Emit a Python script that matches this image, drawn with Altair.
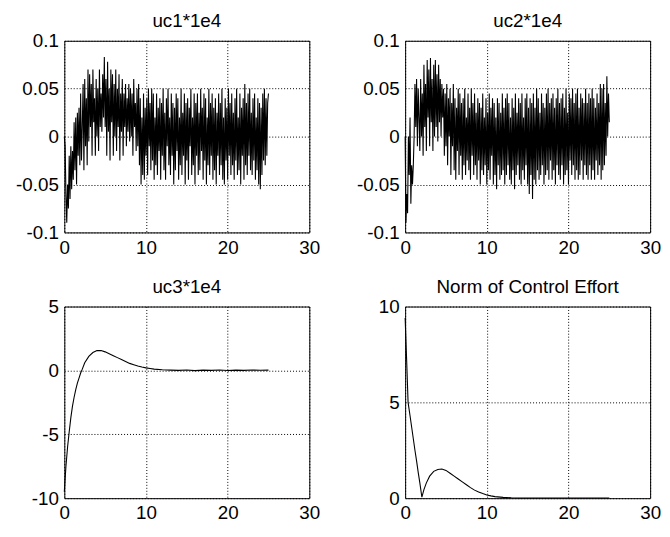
import altair as alt
import pandas as pd

# ---- data ----
t_noise = [round(i * 0.1, 1) for i in range(251)]

uc1 = [
    0.0, -0.01, -0.06, -0.09, -0.05, -0.075, -0.02, -0.065, -0.01, -0.055,
    -0.015, -0.045, 0.015, -0.035, 0.02, -0.05, 0.025, -0.02, 0.03, -0.03,
    0.045, -0.025, 0.01, 0.055, -0.035, 0.06, -0.01, 0.04, -0.03, 0.07,
    -0.005, 0.065, 0.01, 0.055, -0.02, 0.07, 0.015, 0.04, -0.02, 0.06,
    0.0, 0.05, -0.015, 0.07, 0.01, 0.045, 0.005, 0.065, 0.02, 0.083,
    0.01, 0.06, -0.02, 0.078, 0.005, 0.05, -0.025, 0.07, 0.015, 0.065,
    -0.02, 0.055, 0.0, 0.07, -0.015, 0.05, 0.01, 0.065, -0.025, 0.045,
    0.005, 0.06, -0.02, 0.045, 0.01, 0.055, -0.01, 0.04, 0.005, 0.055,
    -0.005, 0.05, 0.0, 0.045, -0.02, 0.06, 0.01, 0.035, -0.015, 0.05,
    -0.01, 0.055, -0.03, 0.04, -0.05, 0.02, -0.04, 0.045, -0.045, 0.03,
    -0.02, 0.04, -0.04, 0.05, -0.01, 0.035, -0.035, 0.05, -0.025, 0.045,
    -0.045, 0.02, -0.03, 0.045, -0.04, 0.03, -0.015, 0.04, -0.045, 0.035,
    -0.02, 0.05, -0.035, 0.025, -0.045, 0.04, -0.01, 0.05, -0.03, 0.02,
    -0.04, 0.045, -0.02, 0.035, -0.05, 0.03, -0.035, 0.045, -0.015, 0.04,
    -0.045, 0.02, -0.03, 0.05, -0.04, 0.025, -0.02, 0.045, -0.05, 0.035,
    -0.025, 0.04, -0.045, 0.03, -0.01, 0.05, -0.04, 0.02, -0.03, 0.045,
    -0.05, 0.035, -0.02, 0.045, -0.04, 0.025, -0.035, 0.05, -0.015, 0.03,
    -0.045, 0.045, -0.025, 0.04, -0.05, 0.02, -0.03, 0.05, -0.04, 0.035,
    -0.02, 0.045, -0.045, 0.03, -0.035, 0.04, -0.05, 0.025, -0.02, 0.045,
    -0.04, 0.035, -0.03, 0.05, -0.045, 0.02, -0.05, 0.04, -0.025, 0.03,
    -0.045, 0.05, -0.02, 0.035, -0.04, 0.045, -0.03, 0.025, -0.045, 0.04,
    -0.025, 0.05, -0.04, 0.02, -0.035, 0.045, -0.05, 0.03, -0.02, 0.04,
    -0.045, 0.055, -0.03, 0.035, -0.04, 0.045, -0.02, 0.05, -0.035, 0.025,
    -0.04, 0.04, -0.025, 0.045, -0.045, 0.02, -0.035, 0.04, -0.05, 0.035,
    -0.055, 0.03, -0.04, 0.045, -0.025, 0.05, -0.03, 0.04, -0.02, 0.035,
    0.045,
]

uc2 = [
    0.0, -0.09, -0.06, -0.08, 0.0, -0.04, 0.02, -0.07, -0.03, -0.05,
    -0.03, 0.0, 0.055, 0.01, 0.06, -0.01, 0.05, 0.02, -0.015, 0.06,
    0.0, 0.045, -0.02, 0.075, 0.01, 0.055, -0.015, 0.08, 0.02, 0.07,
    -0.01, 0.082, 0.015, 0.06, -0.015, 0.075, 0.0, 0.08, 0.01, 0.065,
    -0.005, 0.075, 0.015, 0.06, 0.0, 0.055, 0.02, 0.05, -0.02, 0.045,
    -0.01, 0.055, -0.03, 0.04, 0.0, 0.05, -0.04, 0.035, -0.01, 0.055,
    -0.035, 0.04, -0.045, 0.03, -0.015, 0.05, -0.04, 0.045, -0.02, 0.035,
    -0.045, 0.04, -0.03, 0.05, -0.04, 0.02, -0.025, 0.045, -0.035, 0.03,
    -0.045, 0.05, -0.02, 0.035, -0.04, 0.045, -0.03, 0.025, -0.045, 0.04,
    -0.025, 0.035, -0.05, 0.03, -0.035, 0.045, -0.04, 0.02, -0.03, 0.04,
    -0.05, 0.025, -0.035, 0.045, -0.045, 0.03, -0.02, 0.04, -0.05, 0.035,
    -0.04, 0.02, -0.055, 0.04, -0.03, 0.035, -0.045, 0.025, -0.04, 0.045,
    -0.035, 0.03, -0.05, 0.04, -0.04, 0.045, -0.03, 0.035, -0.045, 0.02,
    -0.05, 0.04, -0.035, 0.03, -0.055, 0.045, -0.04, 0.025, -0.03, 0.04,
    -0.045, 0.035, -0.05, 0.045, -0.035, 0.02, -0.045, 0.04, -0.03, 0.045,
    -0.05, 0.03, -0.06, 0.04, -0.04, 0.035, -0.065, 0.045, -0.045, 0.03,
    -0.05, 0.05, -0.035, 0.04, -0.045, 0.025, -0.04, 0.045, -0.03, 0.035,
    -0.05, 0.03, -0.04, 0.045, -0.035, 0.05, -0.045, 0.035, -0.025, 0.04,
    -0.045, 0.045, -0.035, 0.03, -0.05, 0.04, -0.03, 0.05, -0.04, 0.035,
    -0.045, 0.04, -0.03, 0.045, -0.05, 0.03, -0.04, 0.05, -0.035, 0.025,
    -0.05, 0.045, -0.025, 0.04, -0.04, 0.05, -0.03, 0.035, -0.045, 0.045,
    -0.035, 0.05, -0.045, 0.03, -0.04, 0.045, -0.025, 0.04, -0.045, 0.035,
    -0.03, 0.05, -0.04, 0.035, -0.045, 0.045, -0.03, 0.04, -0.045, 0.05,
    -0.035, 0.04, -0.045, 0.03, -0.025, 0.045, -0.04, 0.035, -0.03, 0.055,
    -0.045, 0.05, -0.035, 0.055, -0.03, 0.035, -0.02, 0.063, 0.0, 0.045,
    0.015,
]

t_uc3 = [0, 0.2, 0.4, 0.6, 0.8, 1.0, 1.2, 1.4, 1.6, 1.8, 2.0, 2.2, 2.5, 3.0, 3.5,
         4.0, 4.5, 5.0, 5.5, 6.0, 6.5, 7.0, 7.5, 8.0, 8.5, 9.0, 9.5, 10.0, 10.5,
         11.0, 12.0, 13.0, 14.0, 15.0, 16.0, 17.0, 18.0, 19.0, 20.0, 21.0, 22.0,
         23.0, 24.0, 25.0]
uc3 = [-9.5, -7.5, -6.0, -4.8, -3.7, -2.8, -2.1, -1.5, -1.0, -0.6, -0.2, 0.1, 0.6,
       1.1, 1.4, 1.55, 1.55, 1.45, 1.3, 1.15, 1.0, 0.85, 0.7, 0.55, 0.45, 0.35,
       0.27, 0.2, 0.15, 0.1, 0.05, 0.02, 0.0, 0.03, -0.02, 0.02, 0.0, 0.03, -0.01,
       0.02, 0.0, 0.03, 0.01, 0.02]

t_norm = [0, 0.1, 0.2, 0.36, 0.6, 0.8, 1.0, 1.2, 1.4, 1.6, 1.8, 2.05, 2.3, 2.6,
          3.0, 3.5, 4.0, 4.5, 5.0, 5.5, 6.0, 6.5, 7.0, 7.5, 8.0, 8.5, 9.0, 9.5,
          10.0, 10.5, 11.0, 12.0, 13.0, 14.0, 16.0, 18.0, 20.0, 22.0, 24.0, 25.0]
norm = [9.4, 8.2, 7.0, 5.0, 4.3, 3.7, 3.1, 2.5, 1.95, 1.35, 0.8, 0.05, 0.45, 0.8,
        1.15, 1.4, 1.5, 1.52, 1.45, 1.3, 1.15, 1.0, 0.85, 0.7, 0.55, 0.42, 0.32,
        0.24, 0.17, 0.12, 0.08, 0.04, 0.02, 0.01, 0.01, 0.01, 0.01, 0.01, 0.01, 0.01]

titles = ["uc1*1e4", "uc2*1e4", "uc3*1e4", "Norm of Control Effort"]
x_ticks = [0, 10, 20, 30]
y_ticks_small = [-0.1, -0.05, 0, 0.05, 0.1]
y_ticks_uc3 = [-10, -5, 0, 5]
y_ticks_norm = [0, 5, 10]

FONT = "Liberation Sans"
FS = 19


def panel(t, v, title, ydom, yticks):
    df = pd.DataFrame({"t": t, "v": v})
    return (
        alt.Chart(df, title=alt.TitleParams(title, fontSize=FS, font=FONT,
                                            fontWeight="normal", color="black",
                                            baseline="alphabetic", offset=-14))
        .mark_line(color="black", strokeWidth=1.1)
        .encode(
            x=alt.X("t:Q", scale=alt.Scale(domain=[0, 30], nice=False),
                    axis=alt.Axis(values=x_ticks, title=None, labelFlush=False)),
            y=alt.Y("v:Q", scale=alt.Scale(domain=ydom, nice=False, zero=False),
                    axis=alt.Axis(values=yticks, title=None,
                                  labelExpr="toString(datum.value)")),
        )
        .properties(width=248, height=194)
    )


c1 = panel(t_noise, uc1, titles[0], [-0.1, 0.1], y_ticks_small)
c2 = panel(t_noise, uc2, titles[1], [-0.1, 0.1], y_ticks_small)
c3 = panel(t_uc3, uc3, titles[2], [-10, 5], y_ticks_uc3)
c4 = panel(t_norm, norm, titles[3], [0, 10], y_ticks_norm)

chart = (
    alt.concat(c1, c2, c3, c4, columns=2, spacing={"row": 19, "column": 35})
    .properties(padding={"left": 7, "top": 0, "right": 0, "bottom": 0},
                background="white")
    .configure_axis(
        grid=True, gridColor="black", gridDash=[1, 2], gridOpacity=1, gridWidth=1,
        domain=False, ticks=False, labelFont=FONT, labelFontSize=FS,
        labelColor="black", labelPadding=6, labelOverlap=False,
    )
    .configure_view(stroke="black", strokeWidth=1)
)

chart.save("out.html", embed_options={"renderer": "svg", "actions": False})
